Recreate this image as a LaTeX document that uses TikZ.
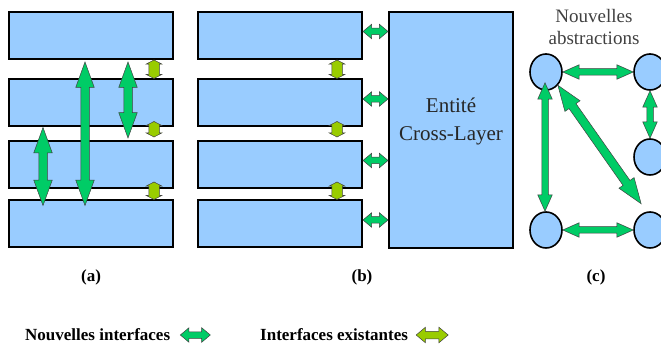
\documentclass[tikz,border=0pt]{standalone}
\usepackage{fontspec}
\setmainfont{Liberation Serif}
\usetikzlibrary{shapes.arrows,shapes.geometric,calc}

\definecolor{layerblue}{HTML}{99CCFF}
\definecolor{newgreen}{HTML}{00CC66}
\definecolor{oldgreen}{HTML}{99CC00}

\tikzset{
  layer/.style={draw, line width=2pt, fill=layerblue, minimum width=164pt,
    minimum height=47pt, inner sep=0pt},
  absnode/.style={ellipse, draw, line width=1.6pt, fill=layerblue,
    minimum width=32pt, minimum height=36pt, inner sep=0pt},
  iface/.style={double arrow, draw=black!75, line width=0.5pt, inner xsep=0pt,
    minimum width=0pt},
  newbig/.style={iface, fill=newgreen, inner ysep=4pt,
    double arrow head extend=5pt, double arrow tip angle=40},
  newmid/.style={iface, fill=newgreen, inner ysep=3pt,
    double arrow head extend=4pt, double arrow tip angle=48},
  newshort/.style={iface, fill=newgreen, inner ysep=3pt,
    double arrow head extend=4pt, double arrow tip angle=80},
  oldshort/.style={iface, fill=oldgreen, inner ysep=3.5pt,
    double arrow head extend=4pt, double arrow tip angle=80},
  oldsquat/.style={iface, fill=oldgreen, inner ysep=5pt,
    double arrow head extend=2.5pt, double arrow tip angle=125},
  link/.style={to path={let \p1=(\tikztostart), \p2=(\tikztotarget),
      \n1={atan2(\y2-\y1,\x2-\x1)}, \n2={veclen(\x2-\x1,\y2-\y1)} in
      node[#1, minimum height=\n2, rotate=\n1] at ($(\p1)!0.5!(\p2)$) {}}},
  caption/.style={font=\bfseries\fontsize{17}{20}\selectfont, inner sep=0pt},
}

\begin{document}
\begin{tikzpicture}[x=1pt, y=-1pt]
  \useasboundingbox (0,0) rectangle (661,347);

  % (a) couches classiques
  \node[layer] (a1) at (91,35.5) {};
  \node[layer] (a2) at (91,103) {};
  \node[layer] (a3) at (91,164.5) {};
  \node[layer] (a4) at (91,224) {};
  \path ([xshift=-6pt,yshift=-2pt]a1.south) to[link=newbig] ([xshift=-6pt,yshift=-6pt]a4.north);
  \path ([xshift=37pt,yshift=-2pt]a1.south) to[link=newbig] ([xshift=37pt,yshift=2pt]a3.north);
  \path ([xshift=-48pt]a2.south) to[link=newbig] ([xshift=-48pt,yshift=-6pt]a4.north);
  \path ([xshift=63pt]a1.south) to[link=oldsquat] ([xshift=63pt]a2.north);
  \path ([xshift=63pt,yshift=6pt]a2.south) to[link=oldsquat] ([xshift=63pt,yshift=3pt]a3.north);
  \path ([xshift=63pt,yshift=7pt]a3.south) to[link=oldsquat] ([xshift=63pt]a4.north);
  \node[caption] (capa) at (91,277) {(a)};

  % (b) entite cross-layer
  \node[layer] (b1) at (280,35.5) {};
  \node[layer] (b2) at (280,103) {};
  \node[layer] (b3) at (280,164.5) {};
  \node[layer] (b4) at (280,224) {};
  \node[layer, minimum width=124pt, minimum height=236pt] (cl) at (451,130) {};
  \node[font=\fontsize{21}{28}\selectfont, align=center, text=black!85] (cltxt)
    at ([yshift=9pt]cl.center) {Entité\\Cross-Layer};
  \foreach \i in {1,...,4}
    \path ([yshift=4pt]b\i.east) to[link=newshort] ([yshift=4pt]b\i.east -| cl.west);
  \path ([xshift=57pt]b1.south) to[link=oldsquat] ([xshift=57pt]b2.north);
  \path ([xshift=57pt,yshift=6pt]b2.south) to[link=oldsquat] ([xshift=57pt,yshift=3pt]b3.north);
  \path ([xshift=57pt,yshift=7pt]b3.south) to[link=oldsquat] ([xshift=57pt]b4.north);
  \node[caption] (capb) at (362,277) {(b)};

  % (c) nouvelles abstractions
  \node[font=\fontsize{19}{22}\selectfont, align=center, text=black!75] (abstr)
    at (594,27) {Nouvelles\\abstractions};
  \node[absnode] (c1) at (546,72) {};
  \node[absnode] (c2) at (650,72) {};
  \node[absnode] (c3) at (650,157) {};
  \node[absnode] (c4) at (546,230) {};
  \node[absnode] (c5) at (650,230) {};
  \path (c1.east) to[link=newmid] (c2.west);
  \path (c2.south) to[link=newmid] (c3.north);
  \path ([xshift=-1pt,yshift=8pt]c1.south) to[link=newmid] ([xshift=-1pt]c4.north);
  \path (c1.south east) to[link=newbig] ([xshift=3pt,yshift=13pt]c5.north west);
  \path (c4.east) to[link=newmid] (c5.west);
  \node[caption] (capc) at (596,277) {(c)};

  % legende
  \node[caption, anchor=west] (lnew) at (25,335) {Nouvelles interfaces};
  \path ([xshift=10pt]lnew.east) to[link=newshort] ([xshift=40pt]lnew.east);
  \node[caption, anchor=west] (lold) at (260,335) {Interfaces existantes};
  \path ([xshift=8pt]lold.east) to[link=oldshort] ([xshift=40pt]lold.east);
\end{tikzpicture}
\end{document}
